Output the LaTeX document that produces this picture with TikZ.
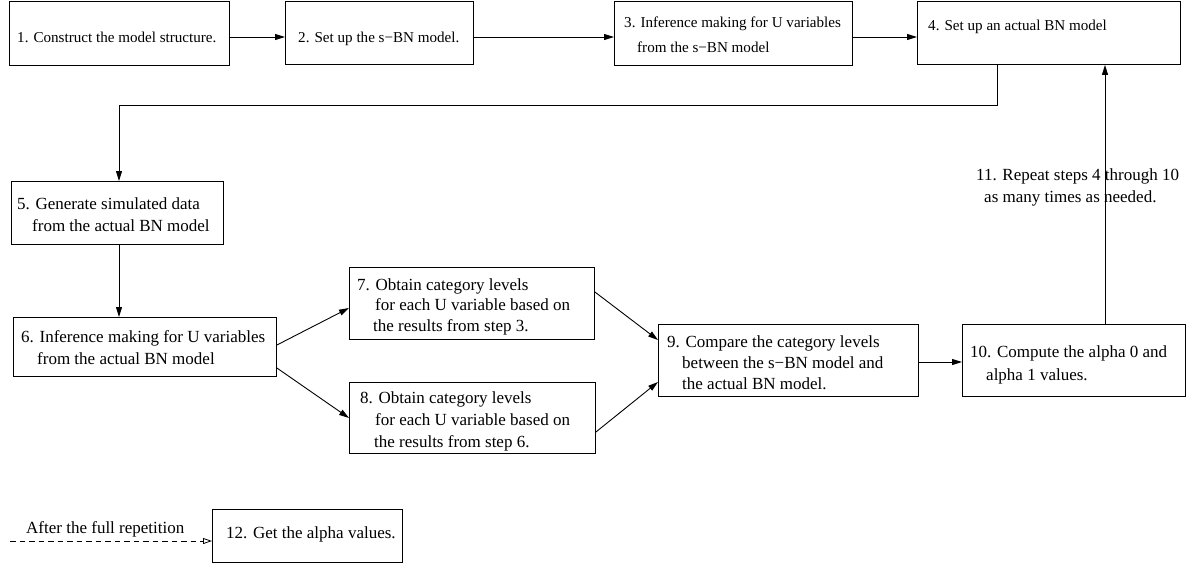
\documentclass[tikz,border=0pt]{standalone}
\usepackage{fontspec}
\setmainfont{Liberation Serif}
\usetikzlibrary{arrows.meta}
\begin{document}
\begin{tikzpicture}[x=1pt,y=-1pt,
  box/.style={draw, line width=0.9pt, inner sep=0pt, anchor=north west},
  txt/.style={anchor=base west, align=left, inner sep=0pt, font=\fontsize{17}{21}\selectfont},
  txts/.style={anchor=base west, align=left, inner sep=0pt, font=\fontsize{15.1}{25}\selectfont},
  arr/.style={-{Triangle[length=10pt,width=6pt]}, line width=0.9pt},
  darr/.style={-{Triangle[open,length=9pt,width=6pt]}, line width=0.8pt, dash pattern=on 5.5pt off 4pt}]
\useasboundingbox (0,0) rectangle (1190,565);
% boxes
\node[box, minimum width=220pt, minimum height=64pt] (b1) at (9,1) {};
\node[box, minimum width=188pt, minimum height=63pt] (b2) at (285,1) {};
\node[box, minimum width=238pt, minimum height=64pt] (b3) at (614,1) {};
\node[box, minimum width=263pt, minimum height=63pt] (b4) at (917,1) {};
\node[box, minimum width=212pt, minimum height=63pt] (b5) at (11,181) {};
\node[box, minimum width=263pt, minimum height=59pt] (b6) at (13,317) {};
\node[box, minimum width=245pt, minimum height=72pt] (b7) at (349,267) {};
\node[box, minimum width=246pt, minimum height=71pt] (b8) at (349,382) {};
\node[box, minimum width=260pt, minimum height=72pt] (b9) at (658,324) {};
\node[box, minimum width=223pt, minimum height=72pt] (b10) at (962,324) {};
\node[box, minimum width=190pt, minimum height=53pt] (b12) at (212,509) {};
% texts (anchor = baseline of the last line)
\node[txts] (t1) at (17,42) {1. Construct the model structure.};
\node[txts] (t2) at (298,42) {2. Set up the s\textminus BN model.};
\node[txts] (t3) at (624,52) {3. Inference making for U variables\\\hspace*{13pt}from the s\textminus BN model};
\node[txts] (t4) at (928,30) {4. Set up an actual BN model};
\node[txt, font=\fontsize{17}{22}\selectfont] (t5) at (17,231) {5. Generate simulated data\\\hspace*{15pt}from the actual BN model};
\node[txt, font=\fontsize{17}{22.5}\selectfont] (t6) at (21,364.5) {6. Inference making for U variables\\\hspace*{16pt}from the actual BN model};
\node[txt, font=\fontsize{17}{20.5}\selectfont] (t7) at (357,331) {7. Obtain category levels\\\hspace*{18pt}for each U variable based on\\\hspace*{16pt}the results from step 3.};
\node[txt, font=\fontsize{17}{22}\selectfont] (t8) at (360,447) {8. Obtain category levels\\\hspace*{15pt}for each U variable based on\\\hspace*{14pt}the results from step 6.};
\node[txt] (t9) at (667,389) {9. Compare the category levels\\\hspace*{15pt}between the s\textminus BN model and\\\hspace*{15pt}the actual BN model.};
\node[txt, font=\fontsize{17}{23}\selectfont] (t10) at (970,380) {10. Compute the alpha 0 and\\\hspace*{16pt}alpha 1 values.};
\node[txt, font=\fontsize{17}{22}\selectfont] (t11) at (976,202) {11. Repeat steps 4 through 10\\\hspace*{8pt}as many times as needed.};
\node[txt] (t12) at (226,538) {12. Get the alpha values.};
\node[txt] (tafter) at (26,533) {After the full repetition};
% connectors
\coordinate (r1) at (0,37);
\draw[arr] (b1.east |- r1) -- (b2.west |- r1);
\draw[arr] (b2.east |- r1) -- (b3.west |- r1);
\draw[arr] (b3.east |- r1) -- (b4.west |- r1);
\coordinate (c1) at (997,105);
\coordinate (c2) at (119,105);
\draw[arr] (b4.south -| c1) -- (c1) -- (c2) -- (c2 |- b5.north);
\draw[arr] (b5.south -| c2) -- (b6.north -| c2);
\draw[arr] (b6.east |- 0,345) -- (b7.west |- 0,308);
\draw[arr] (b6.east |- 0,368) -- (b8.west |- 0,418);
\draw[arr] (b7.east |- 0,292) -- (b9.west |- 0,340);
\draw[arr] (b8.east |- 0,432) -- (b9.west |- 0,382);
\draw[arr] (b9.east |- 0,362) -- (b10.west |- 0,362);
\coordinate (c3) at (1105,0);
\draw[arr] (b10.north -| c3) -- (b4.south -| c3);
\coordinate (d0) at (10,541);
\draw[darr] (d0) -- (b12.west |- d0);
\end{tikzpicture}
\end{document}
